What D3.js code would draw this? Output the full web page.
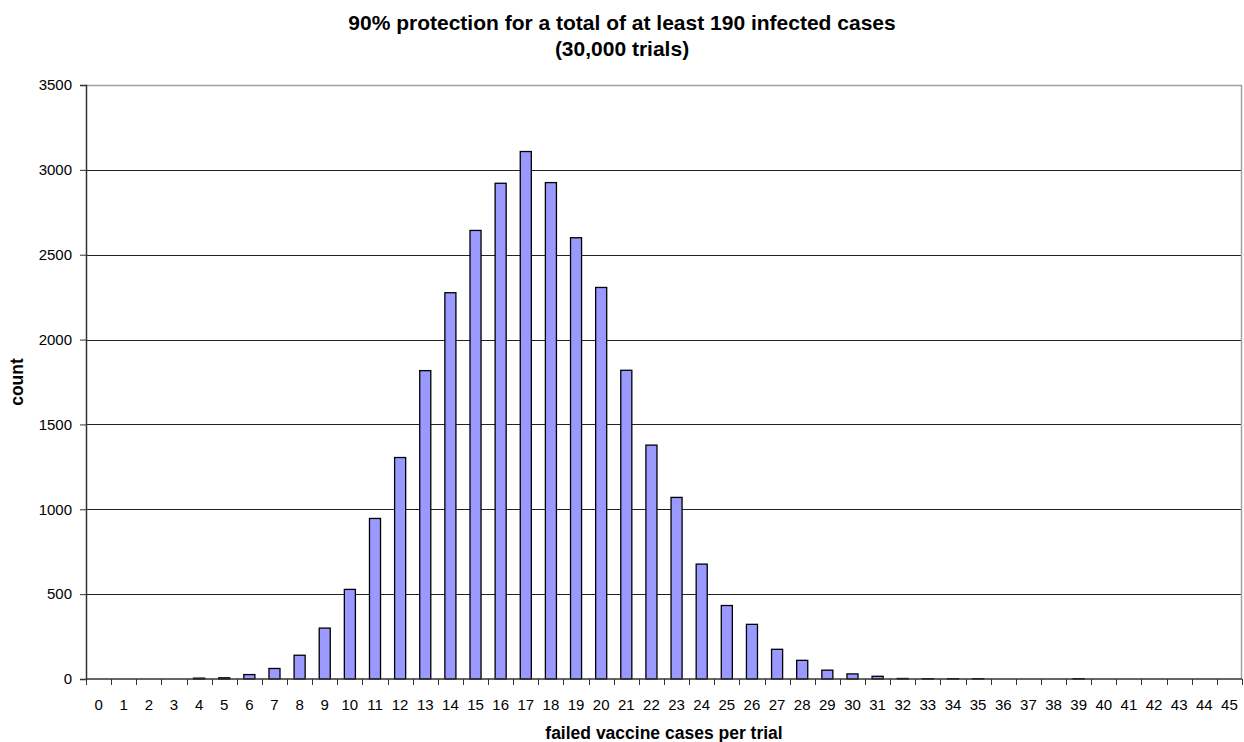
<!DOCTYPE html>
<html>
<head>
<meta charset="utf-8">
<script src="https://cdn.jsdelivr.net/npm/d3@7"></script>
<style>
  body { margin: 0; background: #fff; }
  svg { display: block; font-family: "Liberation Sans", Arial, sans-serif; }
</style>
</head>
<body>
<svg id="chart" width="1244" height="742"></svg>
<script>
// failed vaccine cases per trial (0..45)
const categories = d3.range(0, 46).map(String);
const counts = [
  0, 0, 0, 0, 5, 7, 26, 62, 140, 300,
  528, 946, 1305, 1817, 2276, 2643, 2921, 3108, 2925, 2600,
  2307, 1819, 1378, 1070, 677, 433, 322, 175, 110, 52,
  30, 16, 3, 2, 2, 2, 0, 0, 0, 2,
  0, 0, 0, 0, 0, 0
];
const yTicks = [0, 500, 1000, 1500, 2000, 2500, 3000, 3500];
const titleLines = ['90% protection for a total of at least 190 infected cases', '(30,000 trials)'];
const xTitle = 'failed vaccine cases per trial';
const yTitle = 'count';

const svg = d3.select('#chart');
const margin = { top: 85, right: 2, bottom: 63, left: 86 };
const width = 1244 - margin.left - margin.right;
const height = 742 - margin.top - margin.bottom;

const x = d3.scaleBand().domain(categories).range([0, width]).paddingInner(0.56).paddingOuter(0.28);
const y = d3.scaleLinear().domain([0, 3500]).range([height, 0]);

const g = svg.append('g').attr('transform', `translate(${margin.left},${margin.top})`);

// gridlines
g.append('g')
  .selectAll('line')
  .data(yTicks.filter((d) => d > 0 && d < 3500))
  .join('line')
  .attr('x1', 0)
  .attr('x2', width)
  .attr('y1', (d) => Math.round(y(d)) + 0.5)
  .attr('y2', (d) => Math.round(y(d)) + 0.5)
  .attr('stroke', '#222')
  .attr('stroke-width', 1);

// plot border (top and right, gray)
g.append('path')
  .attr('d', `M0,0.5 H${width - 0.5} V${height}`)
  .attr('fill', 'none')
  .attr('stroke', '#a0a0a0')
  .attr('stroke-width', 1.5);

// bars
g.append('g')
  .selectAll('rect')
  .data(counts)
  .join('rect')
  .attr('x', (d, i) => x(categories[i]))
  .attr('y', (d) => y(d))
  .attr('width', x.bandwidth())
  .attr('height', (d) => height - y(d))
  .attr('fill', '#9999ff')
  .attr('stroke', '#000')
  .attr('stroke-width', 1.3);

// y axis
const yAxis = g.append('g')
  .call(d3.axisLeft(y).tickValues(yTicks).tickSize(6).tickPadding(8).tickFormat(d3.format('d')));
yAxis.select('.domain').attr('stroke', '#333').attr('stroke-width', 1.5);
yAxis.selectAll('.tick line').attr('stroke', '#333');
yAxis.selectAll('text').attr('font-size', 15).attr('fill', '#000')
  .attr('font-family', '"Liberation Sans", Arial, sans-serif');

// x axis: ticks at category boundaries
const step = x.step();
const xAxis = g.append('g').attr('transform', `translate(0,${height})`);
xAxis.append('line')
  .attr('x1', 0).attr('x2', width)
  .attr('stroke', '#333').attr('stroke-width', 1.5);
xAxis.selectAll('line.tk')
  .data(d3.range(0, categories.length + 1))
  .join('line')
  .attr('class', 'tk')
  .attr('x1', (i) => Math.round(i * step) + 0.5)
  .attr('x2', (i) => Math.round(i * step) + 0.5)
  .attr('y1', 0)
  .attr('y2', 6)
  .attr('stroke', '#333');
xAxis.selectAll('text')
  .data(categories)
  .join('text')
  .attr('x', (d) => x(d) + x.bandwidth() / 2)
  .attr('y', 31)
  .attr('text-anchor', 'middle')
  .attr('font-size', 15)
  .text((d) => d);

// titles
svg.append('text')
  .attr('text-anchor', 'middle')
  .attr('font-size', 21)
  .attr('font-weight', 'bold')
  .selectAll('tspan')
  .data(titleLines)
  .join('tspan')
  .attr('x', 622)
  .attr('y', (d, i) => (i === 0 ? 30 : 56))
  .text((d) => d);

svg.append('text')
  .attr('x', margin.left + width / 2)
  .attr('y', 739)
  .attr('text-anchor', 'middle')
  .attr('font-size', 17.5)
  .attr('font-weight', 'bold')
  .text(xTitle);

svg.append('text')
  .attr('transform', `translate(23,${margin.top + height / 2}) rotate(-90)`)
  .attr('text-anchor', 'middle')
  .attr('font-size', 17.5)
  .attr('font-weight', 'bold')
  .text(yTitle);
</script>
</body>
</html>
